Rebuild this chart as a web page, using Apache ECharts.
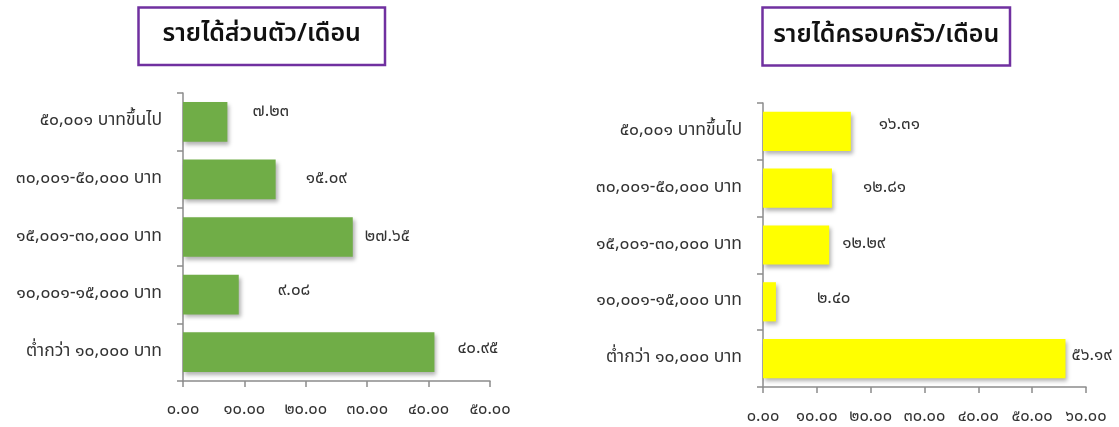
<!DOCTYPE html>
<html>
<head>
<meta charset="utf-8">
<script src="https://cdn.jsdelivr.net/npm/echarts@6/dist/echarts.min.js"></script>
<style>
  html, body { margin: 0; padding: 0; background: #fff; }
  #chart { width: 1119px; height: 427px; }
</style>
</head>
<body>
<div id="chart"></div>
<script>
// Income brackets, listed top to bottom
const categories = [
  '๕๐,๐๐๑ บาทขึ้นไป',
  '๓๐,๐๐๑-๕๐,๐๐๐ บาท',
  '๑๕,๐๐๑-๓๐,๐๐๐ บาท',
  '๑๐,๐๐๑-๑๕,๐๐๐ บาท',
  'ต่ำกว่า ๑๐,๐๐๐ บาท'
];
// Percent of respondents per bracket
const personalIncome = [7.23, 15.09, 27.65, 9.08, 40.95];
const householdIncome = [16.31, 12.81, 12.29, 2.40, 56.19];

const personalTitle = 'รายได้ส่วนตัว/เดือน';
const householdTitle = 'รายได้ครอบครัว/เดือน';

// Value-label nudges [dx from bar end, dy from bar centre]
const personalLabelShift = [[25, -9], [30, 0], [12, 1], [39, -3], [23, -3]];
const householdLabelShift = [[28, -6], [31, 0], [13, 0], [41, -2], [6, -2]];

const THAI_DIGITS = '๐๑๒๓๔๕๖๗๘๙';
const toThai = s => String(s).replace(/[0-9]/g, d => THAI_DIGITS[+d]);
const fmt = v => toThai(Number(v).toFixed(2));

const FONT = '"Noto Sans Thai", "Noto Sans", sans-serif';
const AXIS_COLOR = '#8c8c8c';
const TEXT_COLOR = '#333333';

function grid(left, top, width, height) {
  return { left, top, width, height, containLabel: false };
}

function xAxis(gridIndex, max, margin) {
  return {
    type: 'value', gridIndex, min: 0, max, interval: 10,
    axisLine: { show: true, lineStyle: { color: AXIS_COLOR, width: 1.5 } },
    axisTick: { show: true, length: 6, lineStyle: { color: AXIS_COLOR, width: 1.5 } },
    splitLine: { show: false },
    axisLabel: { formatter: fmt, color: TEXT_COLOR, fontSize: 16.5, fontFamily: FONT, margin }
  };
}

function yAxis(gridIndex) {
  return {
    type: 'category', gridIndex, data: categories, inverse: true,
    axisLine: { show: true, lineStyle: { color: AXIS_COLOR, width: 1.5 } },
    axisTick: { show: true, length: 6, lineStyle: { color: AXIS_COLOR, width: 1.5 } },
    axisLabel: { color: TEXT_COLOR, fontSize: 17.5, fontFamily: FONT, margin: 21 }
  };
}

function series(idx, values, shifts, color) {
  return {
    type: 'bar', xAxisIndex: idx, yAxisIndex: idx,
    barCategoryGap: '31%',
    data: values.map((v, i) => ({
      value: v,
      label: { offset: shifts[i] }
    })),
    itemStyle: {
      color,
      shadowColor: 'rgba(0,0,0,0.3)', shadowBlur: 4,
      shadowOffsetX: 2, shadowOffsetY: 3
    },
    label: {
      show: true, position: 'right', distance: 0,
      formatter: p => fmt(p.value),
      color: TEXT_COLOR, fontSize: 17, fontFamily: FONT
    },
    animation: false
  };
}

function titleBox(x, y, w, h, text) {
  return {
    type: 'group',
    children: [
      { type: 'rect', shape: { x, y, width: w, height: h },
        style: { fill: '#fff', stroke: '#7030a0', lineWidth: 2.5 } },
      { type: 'text', x: x + w / 2, y: y + h / 2,
        style: { text, fill: '#111', font: '600 25px ' + FONT,
                 textAlign: 'center', textVerticalAlign: 'middle' } }
    ]
  };
}

const chart = echarts.init(document.getElementById('chart'), null, { renderer: 'canvas' });
chart.setOption({
  backgroundColor: '#ffffff',
  animation: false,
  grid: [grid(183, 93, 307, 288), grid(763, 103, 323, 284)],
  xAxis: [xAxis(0, 50, 21), xAxis(1, 60, 22)],
  yAxis: [yAxis(0), yAxis(1)],
  series: [
    series(0, personalIncome, personalLabelShift, '#70ad47'),
    series(1, householdIncome, householdLabelShift, '#ffff00')
  ],
  graphic: [
    titleBox(138.5, 7.5, 246.5, 57.5, personalTitle),
    titleBox(762.5, 7.5, 247.5, 58, householdTitle)
  ]
});
</script>
</body>
</html>
